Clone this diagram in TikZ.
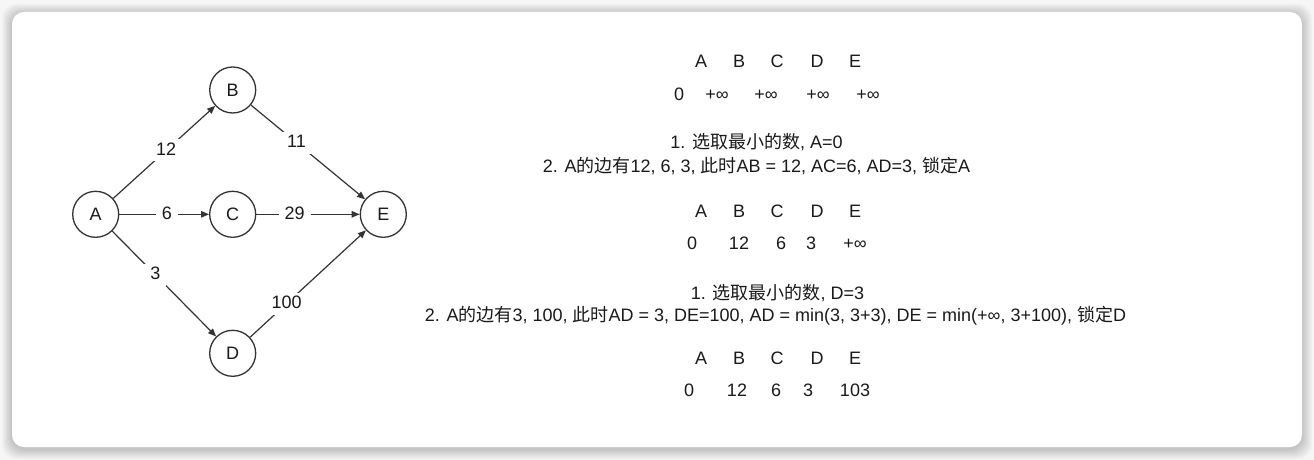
\documentclass[tikz,border=0pt]{standalone}
\usepackage{fontspec}
\setmainfont{Liberation Sans}
\newfontfamily\cjkfont{Noto Sans CJK SC}
\newcommand{\zhs}[1]{{\cjkfont #1}}
\usetikzlibrary{arrows.meta}
\definecolor{bgcol}{HTML}{F6F6F6}
\definecolor{inkcol}{HTML}{1A1A1A}
\definecolor{linecol}{HTML}{333333}
\begin{document}
\begin{tikzpicture}[x=1pt,y=-1pt,
  font=\fontsize{18}{21}\selectfont,
  vtx/.style={circle, draw=linecol, line width=1.3pt, minimum size=46pt, inner sep=0pt, fill=white, text=inkcol},
  edge/.style={draw=linecol, line width=1.2pt, -{Triangle[length=8pt,width=6.5pt]}},
  elab/.style={fill=white, inner xsep=6pt, inner ysep=3pt, text height=13pt, text depth=3pt, text=inkcol},
  txt/.style={anchor=base, inner sep=0pt, text=inkcol}]
\useasboundingbox (0,0) rectangle (1314,460);
\fill[bgcol] (0,0) rectangle (1314,460);
% soft shadow
\foreach \i in {1,...,10}{
  \fill[black, opacity=0.02, rounded corners=14pt] ({12-\i},{12-\i+2}) rectangle ({1302+\i},{447+\i+2});
}
\fill[white, rounded corners=12pt] (12,12) rectangle (1302,447);

% graph
\node[vtx] (A) at (95.7,214.3) {A};
\node[vtx] (B) at (232.7,90) {B};
\node[vtx] (C) at (232.7,214.3) {C};
\node[vtx] (D) at (232.7,353.3) {D};
\node[vtx] (E) at (383.3,214.3) {E};

\draw[edge] (A) -- node[elab, pos=0.52] (lab) {12} (B);
\draw[edge] (B) -- node[elab, pos=0.40] (lbe) {11} (E);
\draw[edge] (A) -- node[elab, pos=0.53] (lac) {6} (C);
\draw[edge] (C) -- node[elab, pos=0.37] (lce) {29} (E);
\draw[edge] (A) -- node[elab, pos=0.415] (lad) {3} (D);
\draw[edge] (D) -- node[elab, pos=0.315] (lde) {100} (E);

% table 1
\node[txt] (h1a) at (701,67.5) {A};
\node[txt] (h1b) at (739,67.5) {B};
\node[txt] (h1c) at (777,67.5) {C};
\node[txt] (h1d) at (817,67.5) {D};
\node[txt] (h1e) at (855,67.5) {E};
\node[txt] (v1a) at (679,100.5) {0};
\node[txt] (v1b) at (717,100.5) {+∞};
\node[txt] (v1c) at (766,100.5) {+∞};
\node[txt] (v1d) at (818,100.5) {+∞};
\node[txt] (v1e) at (868,100.5) {+∞};

\node[txt] (s1a) at (756.5,148.5) {1. \zhs{选取最小的数}, A=0};
\node[txt] (s2a) at (756.5,172.5) {2. A\zhs{的边有}12, 6, 3, \zhs{此时}AB = 12, AC=6, AD=3, \zhs{锁定}A};

% table 2
\node[txt] (h2a) at (701,217.5) {A};
\node[txt] (h2b) at (739,217.5) {B};
\node[txt] (h2c) at (777,217.5) {C};
\node[txt] (h2d) at (817,217.5) {D};
\node[txt] (h2e) at (855,217.5) {E};
\node[txt] (v2a) at (692,249.5) {0};
\node[txt] (v2b) at (739,249.5) {12};
\node[txt] (v2c) at (781,249.5) {6};
\node[txt] (v2d) at (811,249.5) {3};
\node[txt] (v2e) at (855,249.5) {+∞};

\node[txt] (s1b) at (777.5,299.5) {1. \zhs{选取最小的数}, D=3};
\node[txt] (s2b) at (775.5,321.5) {2. A\zhs{的边有}3, 100, \zhs{此时}AD = 3, DE=100, AD = min(3, 3+3), DE = min(+∞, 3+100), \zhs{锁定}D};

% table 3
\node[txt] (h3a) at (701,364.5) {A};
\node[txt] (h3b) at (739,364.5) {B};
\node[txt] (h3c) at (777,364.5) {C};
\node[txt] (h3d) at (817,364.5) {D};
\node[txt] (h3e) at (855,364.5) {E};
\node[txt] (v3a) at (689,396.5) {0};
\node[txt] (v3b) at (737,396.5) {12};
\node[txt] (v3c) at (776,396.5) {6};
\node[txt] (v3d) at (808,396.5) {3};
\node[txt] (v3e) at (855,396.5) {103};
\end{tikzpicture}
\end{document}
